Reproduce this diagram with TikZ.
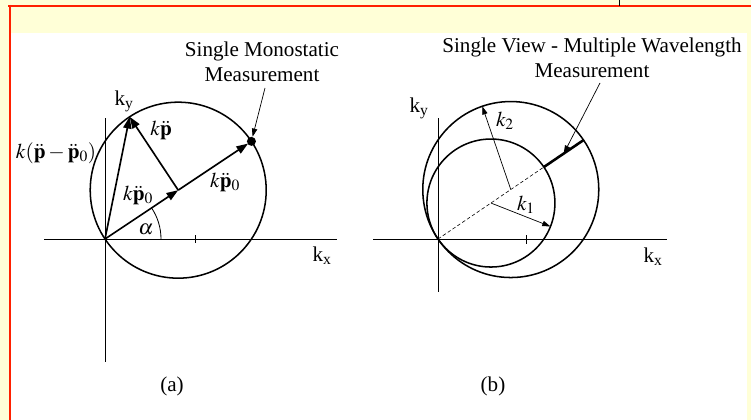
\documentclass[tikz,border=0pt]{standalone}
\usepackage{mathptmx}
\usepackage{fontspec}
\setmainfont{Liberation Serif}
\usetikzlibrary{arrows.meta}

\definecolor{bgyellow}{RGB}{255,255,215}
\definecolor{framered}{RGB}{255,32,0}

\begin{document}
\begin{tikzpicture}[x=0.03cm, y=0.03cm,
    lbl/.style={inner sep=0pt, font=\fontsize{18}{21.5}\selectfont},
    axis/.style={line width=0.7pt},
    circ/.style={line width=1.3pt},
    vec/.style={-{Triangle[length=10pt, width=7pt]}, line width=1.4pt},
    fine/.style={-{Triangle[length=7pt, width=4.5pt]}, line width=0.6pt},
    ptr/.style={-{Triangle[length=7pt, width=4.5pt]}, line width=0.6pt}
]
\useasboundingbox (0,0) rectangle (751,420);

% background and frame
\fill[bgyellow] (0,0) rectangle (751,420);
\fill[white] (11,0) rectangle (747,387);
\draw[framered, line width=1.8pt] (8,414) -- (751,414);
\draw[framered, line width=1.8pt] (10,415) -- (10,0);
\draw[line width=0.8pt] (619,420) -- (619,414);

% (a) single monostatic
\coordinate (oa) at (105,181);
\coordinate (ca) at ([shift={(33.7:88)}]oa);
\coordinate (da) at ([shift={(33.7:176)}]oa);
\coordinate (ta) at ([shift={(123.5:88)}]ca);
\coordinate (xa0) at (44,181);
\coordinate (xa1) at (337,181);
\coordinate (ya0) at (105,58);
\coordinate (ya1) at (105,302);

\draw[axis] (xa0) -- (xa1);
\draw[axis] (ya0) -- (ya1);
\draw[axis] (195,177) -- (195,185);
\draw[circ] (ca) circle (88);
\draw[axis] ([shift={(0:56)}]oa) arc[start angle=0, end angle=33.7, radius=56];

\draw[vec] (oa) -- (ca);
\draw[vec] (ca) -- ([shift={(33.7:-4)}]da);
\draw[vec] (oa) -- (ta);
\draw[vec] (ca) -- (ta);
\node[circle, fill, inner sep=0pt, minimum size=0.27cm] (dot) at (da) {};

\node[lbl] (kya) at (124,319) {k\textsubscript{y}};
\node[lbl] (kxa) at (322,164) {k\textsubscript{x}};
\node[lbl] (kdiff) at (56,267) {$k(\ddot{\mathbf{p}}-\ddot{\mathbf{p}}_0)$};
\node[lbl] (kp) at (161,290) {$k\ddot{\mathbf{p}}$};
\node[lbl] (kp0a) at (138,225) {$k\ddot{\mathbf{p}}_0$};
\node[lbl] (kp0b) at (225,238) {$k\ddot{\mathbf{p}}_0$};
\node[lbl] (alpha) at (146,191) {$\alpha$};
\node[lbl, align=center] (mono) at (262,358) {Single Monostatic\\Measurement};
\coordinate (pa) at (265,332);
\draw[ptr] (pa) -- (dot);
\node[lbl] (capa) at (172,34) {(a)};

% (b) single view - multiple wavelength
\coordinate (ob) at (438,181);
\coordinate (cb1) at ([shift={(34.2:64)}]ob);
\coordinate (cb2) at ([shift={(34.2:88)}]ob);
\coordinate (e1) at ([shift={(34.2:128)}]ob);
\coordinate (e2) at ([shift={(34.2:176)}]ob);
\coordinate (mb) at ([shift={(34.2:152)}]ob);
\coordinate (k1tip) at ([shift={(-21.5:64)}]cb1);
\coordinate (k2tip) at ([shift={(108.9:88)}]cb2);
\coordinate (xb0) at (373,181);
\coordinate (xb1) at (667,181);
\coordinate (yb0) at (438,128);
\coordinate (yb1) at (438,302);

\draw[axis] (xb0) -- (xb1);
\draw[axis] (yb0) -- (yb1);
\draw[axis] (526,176) -- (526,185);
\draw[circ] (cb1) circle (64);
\draw[circ] (cb2) circle (88);
\draw[line width=0.5pt, densely dashed] (ob) -- (e1);
\draw[line width=2.2pt] (e1) -- (e2);
\draw[fine] (cb1) -- (k1tip);
\draw[fine] (cb2) -- (k2tip);

\node[lbl] (kyb) at (419,312) {k\textsubscript{y}};
\node[lbl] (kxb) at (653,163) {k\textsubscript{x}};
\node[lbl] (k1) at (526,215) {$k_1$};
\node[lbl] (k2) at (505,299) {$k_2$};
\node[lbl, align=center] (multi) at (592,362) {Single View - Multiple Wavelength\\Measurement};
\coordinate (pb) at (600,337);
\draw[ptr] (pb) -- (mb);
\node[lbl] (capb) at (493,34) {(b)};

\end{tikzpicture}
\end{document}
